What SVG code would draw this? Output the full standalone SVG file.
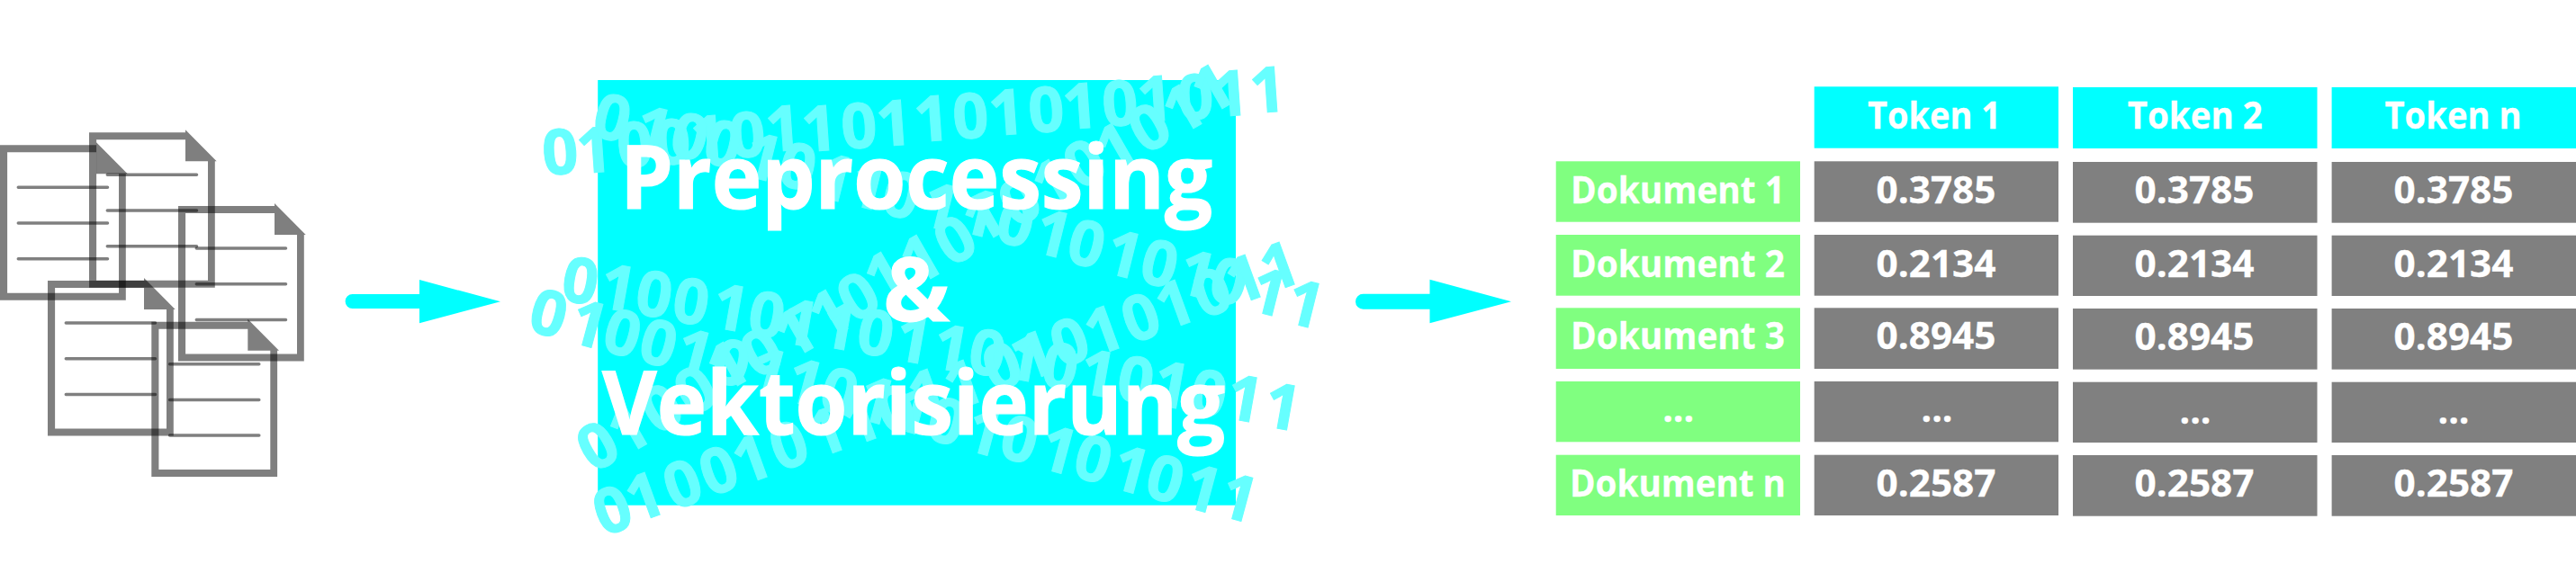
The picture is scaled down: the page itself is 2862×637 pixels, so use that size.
<svg xmlns="http://www.w3.org/2000/svg" xmlns:xlink="http://www.w3.org/1999/xlink" width="2862" height="637" viewBox="0 0 2862 637">
<style>
text{font-family:"Open Sans","Noto Sans","Liberation Sans",sans-serif;font-weight:700;fill:#fff}
.t{font-size:41px;text-anchor:middle;stroke:#fff;stroke-width:.3px}
.m{font-size:98px;text-anchor:middle;stroke:#fff;stroke-width:1.2px}
.b{font-size:70px;fill:#66ffff;stroke:#66ffff;stroke-width:1px}
.c{fill:#00ffff}
.g{fill:#808080}
.k{fill:#80ff80}
.o{fill:#000;fill-opacity:.5;fill-rule:evenodd}
.l{stroke:#000;stroke-opacity:.5;stroke-width:3.5;stroke-linecap:round;fill:none}
</style>
<defs>
<g id="doc">
<path class="o" d="M0 161.3H107V158.3L141.7 193.3H139.8V333.7H0ZM8.1 169.3V325.7H132V193.3H107V169.3Z"/>
<path class="l" d="M20.3 208.3H119.5M20.3 248H119.5M20.3 287.7H119.5"/>
</g>
</defs>
<rect width="2862" height="637" fill="#fff"/>
<g id="doc-1"><use href="#doc"/></g>
<g id="doc-2" transform="translate(99 -14)"><use href="#doc"/></g>
<g id="doc-3" transform="translate(198 67.7)"><use href="#doc"/></g>
<g id="doc-4" transform="translate(53 150.7)"><use href="#doc"/></g>
<g id="doc-5" transform="translate(168.3 196.4)"><use href="#doc"/></g>
<g id="connectors">
<path class="c" d="M391.6 327H466V311L556 335.3L466 359.3V343H391.6A8 8 0 0 1 391.6 327Z"/>
<path class="c" d="M1514.5 326.7H1588.5V310.7L1679 335.3L1588.5 359.3V343.7H1514.5A8.5 8.5 0 0 1 1514.5 326.7Z"/>
</g>
<g id="process">
<rect class="c" x="664.2" y="89" width="708.8" height="472.7"/>
<text class="b" rotate="-4" x="604 642 687 729 769 812 852 892 936 975 1017 1060 1100 1144 1182 1226 1265 1310 1349 1390" y="195 193 187 184 180 176 169 169 166 163 158 155 151 148 144 141 136 134 130 126">01001011011010101011</text>
<text class="b" rotate="14" x="655 701 741 778 823 861 903 940 976 1020 1063 1103 1145 1182 1224 1263 1305 1340 1385 1425" y="150 164 171 179 194 204 217 226 236 249 256 267 279 290 302 312 324 332 344 357">01001011011010101011</text>
<text class="b" rotate="-30" x="659 693.5 730 767.5 803.5 841 878.5 917 948.5 978.5 1018 1056 1088 1128 1165 1200 1235 1272 1310 1342" y="527 508 485 465 438 423 401 380 361 338 319 298 273 255 235 213 195 173 152 130">01001011011010101011</text>
<text class="b" rotate="10" x="621 663 703 744 788 828 866 909 949 991 1033 1073 1114 1154 1196 1238 1278 1319 1359 1401" y="333 341 348 356 363 371 380 384 391 399 408 413 419 428 436 443 449 458 464 473">01001011011010101011</text>
<text class="b" rotate="15" x="584 629 666 706 746 787 829 869 907 949 989 1026 1069 1107 1151 1189 1231 1269 1311 1351" y="367 379 389 400 411 422 432 444 454 464 475 487 499 507 519 529 541 551 562 572">01001011011010101011</text>
<text class="b" rotate="-20" x="670 706 748 788 825 866 908 946 985 1020 1060 1103 1140 1178 1216 1257 1295 1336 1373 1411" y="597 582 568 553 540 525 510 497 485 467 457 437 425 410 397 383 368 355 340 326">01001011011010101011</text>
<text class="m" x="1018" y="231.7" textLength="658" lengthAdjust="spacingAndGlyphs">Preprocessing</text>
<text class="m" x="1018" y="356.7">&amp;</text>
<text class="m" x="1015" y="482.7" textLength="692" lengthAdjust="spacingAndGlyphs">Vektorisierung</text>
</g>
<g id="head-1"><rect class="c" x="2015.7" y="96.3" width="271.3" height="68.4"/><text class="t" x="2149" y="142.7" textLength="148" lengthAdjust="spacingAndGlyphs">Token 1</text></g>
<g id="head-2"><rect class="c" x="2303" y="97" width="271.5" height="68"/><text class="t" x="2438.7" y="143.3" textLength="150" lengthAdjust="spacingAndGlyphs">Token 2</text></g>
<g id="head-n"><rect class="c" x="2590.6" y="97" width="271.4" height="68"/><text class="t" x="2725.5" y="143.3" textLength="152" lengthAdjust="spacingAndGlyphs">Token n</text></g>
<g id="doc-row-1"><rect class="k" x="1728.7" y="179.3" width="271.3" height="67.4"/><text class="t" x="1864" y="225.7" textLength="238" lengthAdjust="spacingAndGlyphs">Dokument 1</text></g>
<g id="doc-row-2"><rect class="k" x="1728.7" y="261" width="271.3" height="67.7"/><text class="t" x="1864" y="307.7" textLength="238" lengthAdjust="spacingAndGlyphs">Dokument 2</text></g>
<g id="doc-row-3"><rect class="k" x="1728.7" y="342.3" width="271.3" height="67.7"/><text class="t" x="1864" y="388.3" textLength="238" lengthAdjust="spacingAndGlyphs">Dokument 3</text></g>
<g id="doc-row-4"><rect class="k" x="1728.7" y="424" width="271.3" height="67.3"/><text class="t" x="1864.7" y="469.3">...</text></g>
<g id="doc-row-n"><rect class="k" x="1728.7" y="505.7" width="271.3" height="67.3"/><text class="t" x="1864" y="551.7" textLength="240" lengthAdjust="spacingAndGlyphs">Dokument n</text></g>
<g id="c1-1"><rect class="g" x="2015.7" y="179.3" width="271.3" height="67.4"/><text class="t" x="2151" y="225.7" textLength="133" lengthAdjust="spacingAndGlyphs">0.3785</text></g>
<g id="c1-2"><rect class="g" x="2015.7" y="261" width="271.3" height="67.7"/><text class="t" x="2151" y="307.7" textLength="133" lengthAdjust="spacingAndGlyphs">0.2134</text></g>
<g id="c1-3"><rect class="g" x="2015.7" y="342.3" width="271.3" height="67.7"/><text class="t" x="2151" y="388.3" textLength="133" lengthAdjust="spacingAndGlyphs">0.8945</text></g>
<g id="c1-4"><rect class="g" x="2015.7" y="424" width="271.3" height="67.3"/><text class="t" x="2152" y="469.3">...</text></g>
<g id="c1-n"><rect class="g" x="2015.7" y="505.7" width="271.3" height="67.3"/><text class="t" x="2151" y="551.7" textLength="133" lengthAdjust="spacingAndGlyphs">0.2587</text></g>
<g id="c2-1"><rect class="g" x="2303" y="180" width="271.5" height="67.7"/><text class="t" x="2438" y="226.3" textLength="133" lengthAdjust="spacingAndGlyphs">0.3785</text></g>
<g id="c2-2"><rect class="g" x="2303" y="261.7" width="271.5" height="67.3"/><text class="t" x="2438" y="308.3" textLength="133" lengthAdjust="spacingAndGlyphs">0.2134</text></g>
<g id="c2-3"><rect class="g" x="2303" y="343" width="271.5" height="67.7"/><text class="t" x="2438" y="389.3" textLength="133" lengthAdjust="spacingAndGlyphs">0.8945</text></g>
<g id="c2-4"><rect class="g" x="2303" y="424.7" width="271.5" height="67.3"/><text class="t" x="2439" y="470.7">...</text></g>
<g id="c2-n"><rect class="g" x="2303" y="506" width="271.5" height="67.7"/><text class="t" x="2438" y="552.3" textLength="133" lengthAdjust="spacingAndGlyphs">0.2587</text></g>
<g id="c3-1"><rect class="g" x="2590.6" y="180" width="271.4" height="67.7"/><text class="t" x="2726" y="226.3" textLength="133" lengthAdjust="spacingAndGlyphs">0.3785</text></g>
<g id="c3-2"><rect class="g" x="2590.6" y="261.7" width="271.4" height="67.3"/><text class="t" x="2726" y="308.3" textLength="133" lengthAdjust="spacingAndGlyphs">0.2134</text></g>
<g id="c3-3"><rect class="g" x="2590.6" y="343" width="271.4" height="67.7"/><text class="t" x="2726" y="389.3" textLength="133" lengthAdjust="spacingAndGlyphs">0.8945</text></g>
<g id="c3-4"><rect class="g" x="2590.6" y="424.7" width="271.4" height="67.3"/><text class="t" x="2726" y="470.7">...</text></g>
<g id="c3-n"><rect class="g" x="2590.6" y="506" width="271.4" height="67.7"/><text class="t" x="2726" y="552.3" textLength="133" lengthAdjust="spacingAndGlyphs">0.2587</text></g>
</svg>
